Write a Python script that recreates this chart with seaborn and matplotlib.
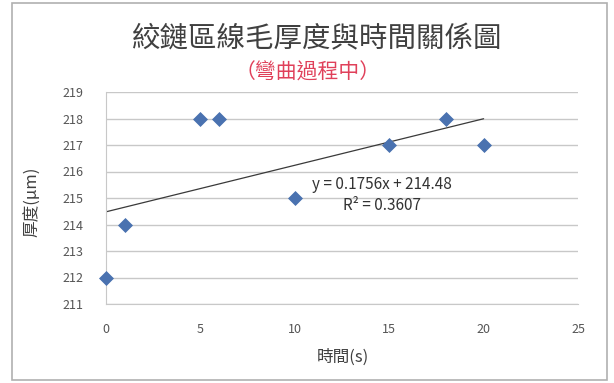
import numpy as np
import matplotlib
matplotlib.use('Agg')
import matplotlib.pyplot as plt
import seaborn as sns
import pandas as pd

# Data
time_s = [0, 1, 5, 6, 10, 15, 18, 20]
thickness_um = [212, 214, 218, 218, 215, 217, 218, 217]
x_ticks = [0, 5, 10, 15, 20, 25]
y_ticks = [211, 212, 213, 214, 215, 216, 217, 218, 219]

title = '絞鏈區線毛厚度與時間關係圖'
subtitle = '（彎曲過程中）'
xlabel = '時間(s)'
ylabel = '厚度(μm)'

sns.set_style('white')
plt.rcParams['font.family'] = ['Noto Sans CJK TC', 'DejaVu Sans']

df = pd.DataFrame({'time': time_s, 'thickness': thickness_um})

fig = plt.figure(figsize=(6.14, 3.83), dpi=100)
ax = fig.add_axes([106 / 614, 1 - 304 / 383, (578 - 106) / 614, (304 - 92) / 383])

# linear trendline
slope, intercept = np.polyfit(df['time'], df['thickness'], 1)
pred = slope * df['time'] + intercept
r2 = 1 - ((df['thickness'] - pred) ** 2).sum() / ((df['thickness'] - df['thickness'].mean()) ** 2).sum()
xs = np.array([df['time'].min(), df['time'].max()])
ax.plot(xs, slope * xs + intercept, color='#3a3a3a', lw=0.9, zorder=2)

sns.scatterplot(data=df, x='time', y='thickness', marker='D', s=50,
                color='#4a72b0', edgecolor='#4a72b0', ax=ax, zorder=3, clip_on=False)

ax.set_xlim(0, 25)
ax.set_ylim(211, 219)
ax.set_xticks(x_ticks)
ax.set_yticks(y_ticks)
ax.yaxis.grid(True, color='#c8c8c8', lw=1)
ax.xaxis.grid(False)
for side in ['top', 'right']:
    ax.spines[side].set_visible(False)
ax.spines['left'].set_color('#c8c8c8')
ax.spines['bottom'].set_color('#c8c8c8')
ax.tick_params(axis='both', labelsize=9, colors='#555555', length=0)
ax.tick_params(axis='x', pad=14)
ax.tick_params(axis='y', pad=16)
ax.set_xlabel('')
ax.set_ylabel('')

ax.text(14.6, 215.5, 'y = %.4fx + %.2f' % (slope, intercept), ha='center', va='center',
        fontsize=11, color='#333333')
ax.text(14.6, 214.7, 'R² = %.4f' % r2, ha='center', va='center',
        fontsize=11, color='#333333')

fig.text(317 / 614, 1 - 39 / 383, title, ha='center', va='center', fontsize=20.5, color='#404040')
fig.text(308 / 614, 1 - 73 / 383, subtitle, ha='center', va='center', fontsize=15, color='#e0405a')
fig.text(343 / 614, 1 - 357 / 383, xlabel, ha='center', va='center', fontsize=12, color='#404040')
fig.text(33 / 614, 1 - 202 / 383, ylabel, ha='center', va='center', fontsize=12,
         color='#404040', rotation=90)

# chart border
fig.patches.append(plt.Rectangle((12 / 614, 3 / 383), 595 / 614, 377 / 383, fill=False,
                                 edgecolor='#b0b0b0', lw=1.2, transform=fig.transFigure))

fig.savefig('out.png', dpi=100)
